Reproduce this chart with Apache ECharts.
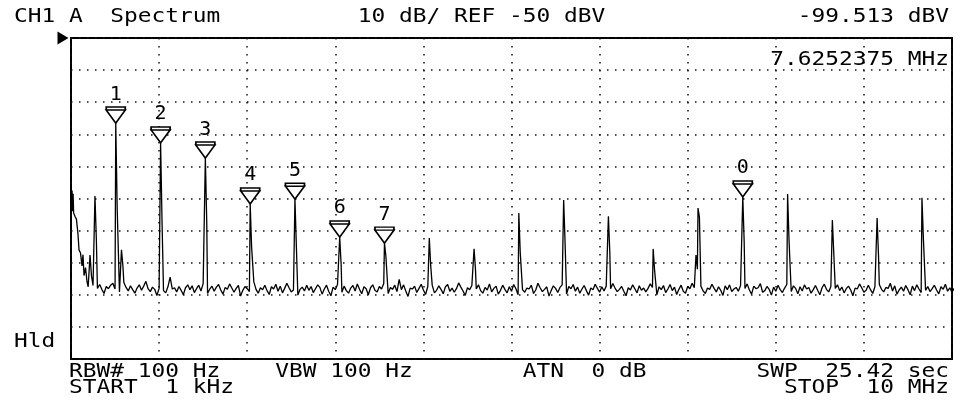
<!DOCTYPE html>
<html>
<head>
<meta charset="utf-8">
<script src="https://cdn.jsdelivr.net/npm/echarts@6/dist/echarts.min.js"></script>
<style>
  html, body { margin: 0; padding: 0; background: #fff; }
  #chart { width: 967px; height: 407px; }
</style>
</head>
<body>
<div id="chart"></div>
<script>
// Sweep settings (frequency in MHz, level in dBV)
const startMHz = 0.001;
const stopMHz = 10;
const refLevel = -50;
const dbPerDiv = 10;
const divisions = 10;

// Roll-off right at the start of the sweep: [MHz, dBV]
const lowBand = [
  [0.000, -96.5], [0.006, -103.5], [0.012, -97.5], [0.017, -104.0], [0.024, -98.5], [0.030, -104.5],
  [0.045, -105.5], [0.062, -106.5], [0.079, -111.0], [0.091, -116.0],
  [0.108, -117.0], [0.125, -121.0], [0.136, -117.5], [0.148, -124.0],
  [0.165, -121.5], [0.182, -126.0], [0.195, -127.5]
];

// Noise floor samples, starting at 0.2 MHz, one every 0.025 MHz (dBV)
const noiseStart = 0.2;
const noiseStep = 0.025;
const noiseFloor = [
  -127.5,-128.6,-127.1,-129.2,-128.0,-126.8,-128.3,-129.6,-127.4,-128.1,-127.0,-126.4,-128.2,-127.6,-129.1,-128.0,-126.2,-127.7,-128.8,-127.2,
  -128.4,-129.5,-127.9,-126.9,-128.6,-127.3,-125.8,-128.1,-129.0,-127.6,-128.3,-130.2,-128.0,-127.1,-128.7,-129.4,-127.5,-124.5,-128.2,-127.8,
  -129.1,-127.4,-128.6,-130.0,-127.8,-126.9,-128.4,-127.2,-129.3,-128.1,-127.0,-128.8,-126.5,-127.9,-129.6,-128.2,-127.3,-128.9,-127.6,-126.8,
  -128.5,-129.8,-127.7,-128.3,-126.6,-127.9,-129.2,-128.0,-127.1,-130.4,-128.6,-127.4,-128.1,-129.0,-127.2,-125.9,-128.3,-129.5,-127.8,-128.4,
  -127.0,-128.7,-129.9,-127.5,-128.2,-126.7,-128.9,-127.3,-129.4,-128.0,-126.4,-127.8,-129.1,-128.5,-127.2,-130.1,-128.3,-127.6,-128.8,-127.0,
  -128.6,-127.4,-129.3,-128.1,-126.9,-127.7,-129.8,-128.2,-127.0,-128.9,-130.3,-127.6,-128.4,-126.8,-128.0,-129.2,-127.3,-128.7,-129.5,-127.9,
  -127.1,-128.8,-126.6,-128.3,-129.7,-127.5,-128.1,-130.0,-127.8,-126.9,-128.6,-129.1,-127.4,-128.2,-126.5,-128.9,-129.6,-127.7,-128.3,-127.0,
  -129.0,-125.2,-128.4,-126.9,-128.8,-130.5,-127.9,-128.2,-127.3,-129.3,-128.0,-126.7,-128.5,-129.9,-127.4,-128.1,-127.0,-129.4,-128.6,-127.2,
  -128.3,-129.7,-127.5,-126.8,-128.9,-127.9,-129.2,-128.1,-126.3,-127.6,-128.8,-130.2,-127.8,-128.4,-127.1,-129.0,-128.2,-126.9,-128.7,-129.5,
  -127.7,-128.5,-126.6,-129.1,-128.0,-127.3,-129.8,-128.6,-127.0,-128.3,-129.4,-127.5,-128.9,-126.8,-128.1,-130.0,-127.6,-128.4,-129.2,-127.9,
  -128.2,-127.0,-129.6,-128.5,-126.4,-127.8,-129.0,-128.3,-127.5,-130.4,-128.7,-127.2,-128.0,-129.3,-127.7,-126.9,-128.6,-129.8,-127.4,-128.1,
  -126.8,-128.9,-127.6,-129.5,-128.2,-127.1,-128.7,-130.1,-127.9,-128.4,-126.7,-128.0,-129.2,-127.5,-128.8,-127.3,-129.7,-128.1,-126.5,-127.9,
  -129.0,-128.3,-127.4,-128.9,-130.3,-127.8,-128.5,-126.9,-128.1,-129.4,-127.2,-128.6,-127.9,-129.1,-128.0,-126.6,-127.7,-128.8,-130.0,-127.5,
  -128.4,-127.1,-129.3,-128.2,-126.8,-128.7,-127.6,-129.9,-128.3,-127.0,-128.9,-129.5,-127.4,-128.1,-126.4,-127.8,-129.2,-128.5,-127.3,-128.8,
  -129.6,-127.9,-128.3,-126.7,-128.0,-129.1,-127.5,-128.6,-130.2,-127.2,-128.4,-126.9,-129.0,-128.2,-127.7,-128.9,-127.1,-129.4,-128.0,-126.6,
  -128.5,-129.8,-127.3,-128.1,-127.8,-126.5,-129.2,-128.7,-127.4,-128.3,-130.1,-127.6,-128.9,-127.0,-128.4,-129.3,-127.9,-126.8,-128.6,-129.0,
  -127.2,-128.0,-129.7,-127.5,-128.8,-126.9,-128.2,-127.7,-129.5,-128.4,-127.1,-128.6,-130.0,-127.8,-126.7,-128.3,-129.1,-127.4,-128.9,-128.0,
  -126.9,-128.7,-127.6,-129.4,-128.1,-127.3,-128.5,-130.3,-127.9,-128.2,-126.6,-127.8,-129.2,-128.6,-127.0,-128.4,-129.6,-127.5,-128.1,-126.8,
  -128.3,-129.1,-127.7,-128.0,-126.4,-128.8,-127.2,-129.8,-128.5,-127.6,-128.9,-127.1,-128.4,-130.0,-127.3,-128.7,-126.9,-128.2,-129.3,-127.8,
  -128.6,-127.4,-129.0,-128.1,-127.0,-128.5,-129.7,-127.5,-128.3,-126.7,-128.9,-127.8,-129.2,-128.0,-127.3,-128.6,-126.9,-129.4,-128.2,-127.6
];

// Harmonic lines: frequency (MHz), peak level and the level of the sample just after the peak (dBV)
const harmonicFreq = [0.508, 1.017, 1.525, 2.034, 2.542, 3.050, 3.558, 4.067, 4.575, 5.083,
                      5.592, 6.100, 6.608, 7.117, 7.6252375, 8.134, 8.642, 9.150, 9.659];
const harmonicPeak = [-76.5, -82.7, -87.4, -101.7, -100.2, -112.0, -113.9, -112.3, -115.7, -104.5,
                      -100.5, -105.5, -115.7, -103.0, -99.513, -98.6, -106.7, -106.1, -99.8];
const harmonicShoulder = [-102.8, -106.7, -107.6, -115.1, -114.8, -120.4, -117.9, -121.0, -122.0, -116.7,
                          -113.6, -117.0, -122.3, -105.8, -113.6, -112.9, -117.0, -117.9, -112.3];

// Other spurious lines
const spurFreq = [0.216, 0.272, 0.573, 7.094];
const spurPeak = [-117.6, -99.2, -116.0, -117.6];
const spurShoulder = [-124.0, -112.9, -121.0, -122.0];

// Markers: shown label and the harmonic each one sits on
const markerLabels = ['1', '2', '3', '4', '5', '6', '7', '0'];
const markerHarmonic = [0, 1, 2, 3, 4, 5, 6, 14];
const activeMarker = 7;

// Panel annotations
const titleText = 'CH1 A  Spectrum';
const scaleText = dbPerDiv + ' dB/ REF ' + refLevel + ' dBV';
const holdText = 'Hld';
const rbwText = 'RBW# 100 Hz';
const vbwText = 'VBW 100 Hz';
const atnText = 'ATN  0 dB';
const swpText = 'SWP  25.42 sec';
const startText = 'START  1 kHz';
const stopText = 'STOP  10 MHz';

// ---- build the trace ----
const lineFreqs = harmonicFreq.concat(spurFreq);
const trace = lowBand.slice();
noiseFloor.forEach(function (v, i) {
  const f = noiseStart + i * noiseStep;
  // a spectral line replaces the noise samples it covers
  const covered = lineFreqs.some(function (lf) { return f > lf - 0.004 && f < lf + 0.02; });
  if (!covered) trace.push([f, v]);
});
function pushLine(f, peak, shoulder) {
  trace.push([f, peak]);
  trace.push([f + 0.016, shoulder]);
}
harmonicFreq.forEach(function (f, i) { pushLine(f, harmonicPeak[i], harmonicShoulder[i]); });
spurFreq.forEach(function (f, i) { pushLine(f, spurPeak[i], spurShoulder[i]); });
trace.sort(function (a, b) { return a[0] - b[0]; });

const markers = markerLabels.map(function (lab, i) {
  const h = markerHarmonic[i];
  return { name: lab, value: [harmonicFreq[h], harmonicPeak[h]] };
});
const active = markers[activeMarker].value;
const readFreq = active[0].toFixed(7) + ' MHz';
const readLevel = active[1].toFixed(3) + ' dBV';

// ---- text on the character grid of the display ----
const COL0 = 14, COLW = 13.75;
const FONT = '20px "DejaVu Sans Mono"';
function cell(col, y, text) {
  return {
    type: 'text', x: COL0 + col * COLW, y: y, scaleX: 1.142, z: 10,
    style: { text: text, font: FONT, fill: '#000', textAlign: 'left', textVerticalAlign: 'middle' }
  };
}

const chart = echarts.init(document.getElementById('chart'), null, { renderer: 'canvas' });
const dotted = { color: '#111', width: 1.5, type: [1.5, 6.5] };

chart.setOption({
  animation: false,
  backgroundColor: '#fff',
  grid: {
    left: 71, right: 15, top: 38, bottom: 48,
    show: true, borderColor: '#000', borderWidth: 2,
    outerBoundsMode: 'none'
  },
  xAxis: {
    type: 'value', min: 0, max: stopMHz, interval: (stopMHz - 0) / divisions,
    axisLine: { show: false }, axisTick: { show: false }, axisLabel: { show: false },
    splitLine: { show: true, lineStyle: dotted }
  },
  yAxis: {
    type: 'value', min: refLevel - dbPerDiv * divisions, max: refLevel, interval: dbPerDiv,
    axisLine: { show: false }, axisTick: { show: false }, axisLabel: { show: false },
    splitLine: { show: true, lineStyle: dotted }
  },
  series: [
    {
      name: 'trace', type: 'line', data: trace, showSymbol: false, symbol: 'none',
      sampling: null, z: 3,
      lineStyle: { color: '#000', width: 1.3 },
      markPoint: {
        silent: true,
        symbol: 'path://M0,0L10,6L0,12Z',
        symbolSize: [11, 13],
        symbolOffset: [-8, 0],
        itemStyle: { color: '#000' },
        label: { show: false },
        data: [{ coord: [0, refLevel] }]
      }
    },
    {
      name: 'markers', type: 'scatter', data: markers, z: 5,
      symbol: 'path://M0,0H19V3H0ZM0,3L9.5,16L19,3Z',
      symbolSize: [19, 16],
      symbolOffset: [0, '-50%'],
      itemStyle: { color: '#fff', borderColor: '#000', borderWidth: 1.6, opacity: 1 },
      label: {
        show: true, position: 'top', distance: 2, formatter: '{b}',
        fontFamily: 'DejaVu Sans Mono', fontSize: 20, color: '#000'
      }
    }
  ],
  graphic: [
    cell(0, 17, titleText),
    cell(25, 17, scaleText),
    cell(57, 17, readLevel),
    cell(55, 60, readFreq),
    cell(0, 342, holdText),
    cell(4, 372, rbwText),
    cell(19, 372, vbwText),
    cell(37, 372, atnText),
    cell(54, 372, swpText),
    cell(4, 388, startText),
    cell(56, 388, stopText)
  ]
});
</script>
</body>
</html>
